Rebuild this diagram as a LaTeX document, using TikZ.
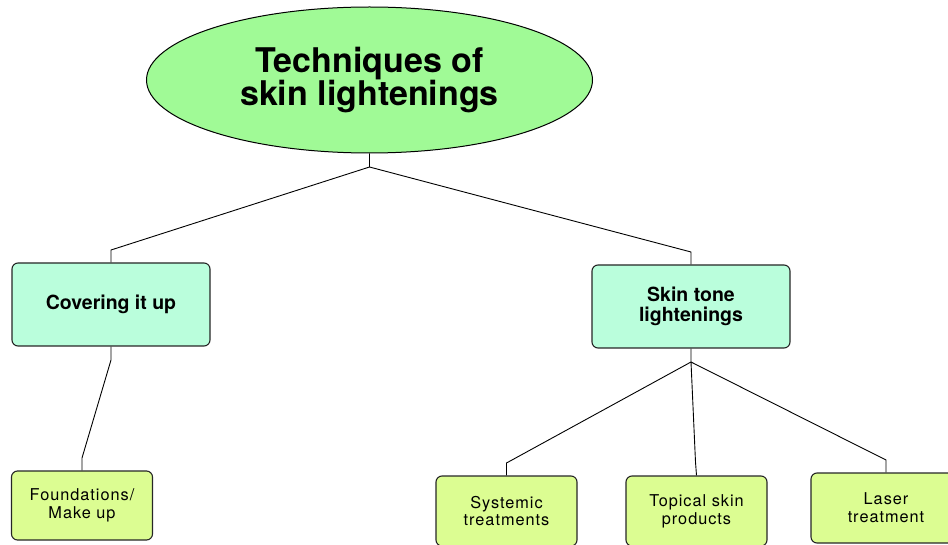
\documentclass[tikz,border=0pt]{standalone}
\usepackage{fontspec}
\setmainfont{TeX Gyre Heros}
\newfontfamily\leaffont[LetterSpace=6]{TeX Gyre Heros}
\usetikzlibrary{shapes.geometric}
\definecolor{titlegreen}{HTML}{A0FA96}
\definecolor{midmint}{HTML}{BAFEDC}
\definecolor{leafgreen}{HTML}{DCFD92}
\begin{document}
\begin{tikzpicture}[x=1pt,y=-1pt,
  titlenode/.style={ellipse, draw=black, line width=1pt, fill=titlegreen,
    minimum width=446pt, minimum height=146pt, inner sep=0pt, align=center,
    font=\bfseries\fontsize{34}{33.5}\selectfont},
  midbox/.style={rectangle, rounded corners=6pt, draw=black!85, line width=1.1pt,
    fill=midmint, minimum width=198pt, minimum height=83pt, inner sep=0pt,
    align=center, font=\bfseries\fontsize{19.5}{19.7}\selectfont},
  leafbox/.style={rectangle, rounded corners=6pt, draw=black!85, line width=1.1pt,
    fill=leafgreen, minimum width=141pt, minimum height=70pt, inner sep=0pt,
    align=center, font=\leaffont\fontsize{16.3}{17.7}\selectfont},
  conn/.style={draw=black, line width=0.9pt}]
\useasboundingbox (0,0) rectangle (948,545);

\node[titlenode] (title) at (369.5,80) {Techniques of\\skin lightenings};
\node[midbox] (cover) at (111,304.5) {\raisebox{-2pt}{Covering it up}};
\node[midbox] (skin) at (691,306.5) {Skin tone\\lightenings};
\node[leafbox, minimum height=69pt] (found) at (82,505.5) {Foundations/\\Make up};
\node[leafbox] (syst) at (506.5,511) {Systemic\\treatments};
\node[leafbox] (topic) at (696.5,511) {Topical skin\\products};
\node[leafbox, minimum width=150pt] (laser) at (886,508) {Laser\\treatment};

\coordinate (j0) at (369.5,167);
\coordinate (a1) at (111,250);
\coordinate (a2) at (691,252);
\coordinate (c1) at (111,360);
\coordinate (c2) at (82,458);
\coordinate (s0) at (691,362);
\coordinate (s1) at (506.5,463);
\coordinate (s2) at (695.5,462);
\coordinate (s3) at (886,460);

\draw[conn] (title.south) -- (j0) -- (a1) -- (cover.north);
\draw[conn] (j0) -- (a2) -- (skin.north);
\draw[conn] (cover.south) -- (c1) -- (c2) -- (found.north);
\draw[conn] (skin.south) -- (s0) -- (s1) -- (syst.north);
\draw[conn] (s0) -- (s2) -- (topic.north);
\draw[conn] (s0) -- (s3) -- (laser.north);
\end{tikzpicture}
\end{document}
